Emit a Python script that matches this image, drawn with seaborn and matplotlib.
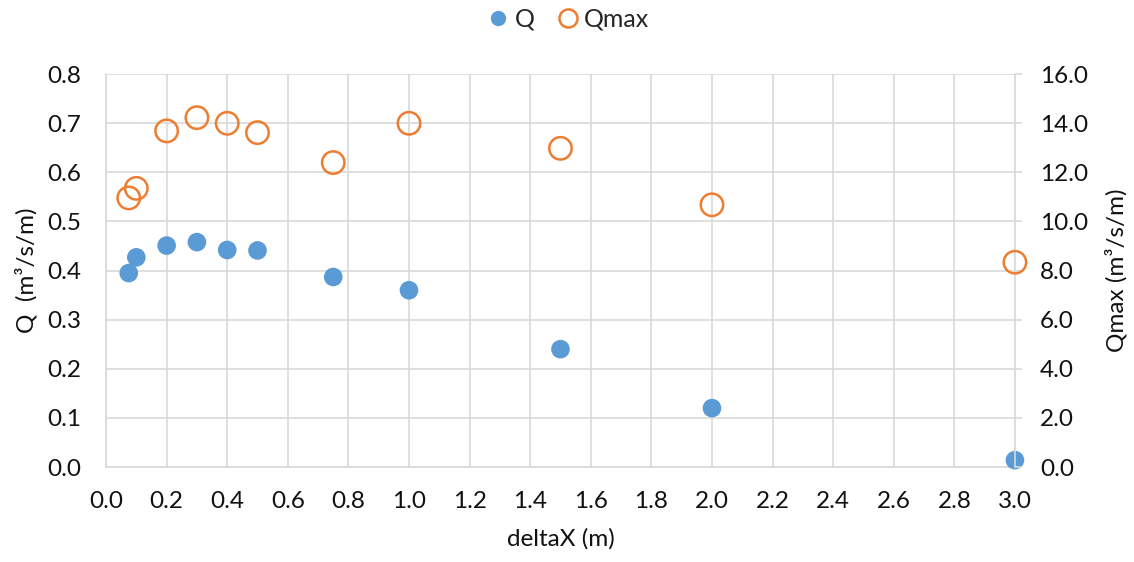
import numpy as np
import pandas as pd
import matplotlib
matplotlib.use('Agg')
import matplotlib.pyplot as plt
import seaborn as sns
from matplotlib.ticker import FormatStrFormatter
from matplotlib.lines import Line2D

delta_x = [0.075, 0.1, 0.2, 0.3, 0.4, 0.5, 0.75, 1.0, 1.5, 2.0, 3.0]
q = [0.395, 0.427, 0.451, 0.458, 0.442, 0.441, 0.387, 0.360, 0.240, 0.120, 0.014]
q_max = [10.96, 11.35, 13.69, 14.23, 14.00, 13.62, 12.40, 14.00, 12.98, 10.68, 8.34]

blue = '#5B9BD5'; orange = '#ED7D31'; grid = '#D9D9D9'; txt = '#111111'
fs = 17.5

sns.set_style('white')
plt.rcParams['font.family'] = ['Lato', 'DejaVu Sans']

df = pd.DataFrame({'deltaX': delta_x, 'Q': q, 'Qmax': q_max})

fig = plt.figure(figsize = (11.34, 5.62), dpi = 100)
ax = fig.add_axes([0.0935, 0.169, 0.8015, 0.699])
ax2 = ax.twinx()

sns.scatterplot(data = df, x = 'deltaX', y = 'Q', ax = ax, color = blue, s = 180, edgecolor = 'none', zorder = 3, clip_on = False)
sns.scatterplot(data = df, x = 'deltaX', y = 'Qmax', ax = ax2, s = 260, marker = 'o', facecolor = 'none', edgecolor = orange, linewidth = 1.8, zorder = 3, clip_on = False)

ax.set_xlim(0, 3.0); ax.set_ylim(0, 0.8)
ax2.set_ylim(0, 16)
ax.set_xticks(np.arange(0, 3.01, 0.2)); ax.set_yticks(np.arange(0, 0.81, 0.1))
ax2.set_yticks(np.arange(0, 16.1, 2))
ax.xaxis.set_major_formatter(FormatStrFormatter('%.1f'))
ax.yaxis.set_major_formatter(FormatStrFormatter('%.1f'))
ax2.yaxis.set_major_formatter(FormatStrFormatter('%.1f'))

ax.grid(True, color = grid, lw = 1.2)
ax.set_axisbelow(True)
ax2.grid(False)
for a in (ax, ax2):
    for s in a.spines.values():
        s.set_visible(False)
ax.spines['left'].set_visible(True); ax.spines['left'].set_color(grid); ax.spines['left'].set_linewidth(1.2)
ax.spines['bottom'].set_visible(True); ax.spines['bottom'].set_color(grid); ax.spines['bottom'].set_linewidth(1.2)
ax2.spines['right'].set_visible(True); ax2.spines['right'].set_color(grid); ax2.spines['right'].set_linewidth(1.2)

ax.tick_params(axis = 'y', length = 0, labelsize = fs, labelcolor = txt, pad = 18)
ax.tick_params(axis = 'x', length = 0, labelsize = fs, labelcolor = txt, pad = 17)
ax2.tick_params(axis = 'y', length = 5, width = 1.2, color = grid, labelsize = fs, labelcolor = txt, pad = 13)

ax.set_xlabel('deltaX (m)', fontsize = fs, color = txt, labelpad = 12)
ax.set_ylabel('Q  (m³/s/m)', fontsize = fs, color = txt, labelpad = 7)
ax2.set_ylabel('Qmax (m³/s/m)', fontsize = fs, color = txt, labelpad = 12)

handles = [Line2D([], [], ls = '', marker = 'o', ms = 11, mfc = blue, mec = 'none'),
           Line2D([], [], ls = '', marker = 'o', ms = 13, mfc = 'none', mec = orange, mew = 1.8)]
fig.legend(handles, ['Q', 'Qmax'], loc = 'center', bbox_to_anchor = (0.5, 0.966), ncol = 2, frameon = False,
           fontsize = 18, handletextpad = 0.1, columnspacing = 0.8, handlelength = 1.1)

fig.savefig('out.png', dpi = 100)
